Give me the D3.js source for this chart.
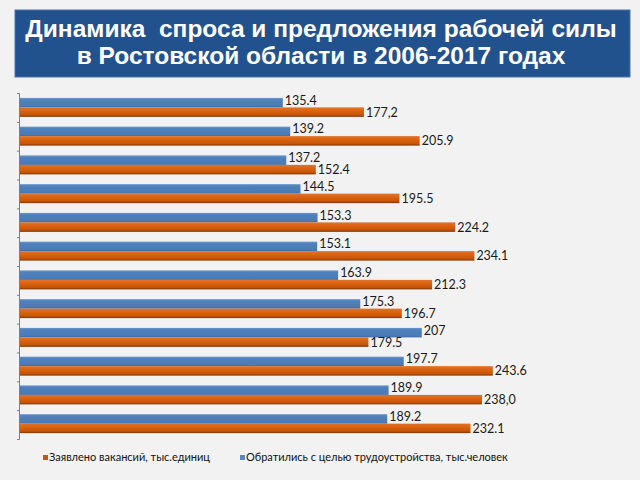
<!DOCTYPE html>
<html><head><meta charset="utf-8">
<script src="https://cdn.jsdelivr.net/npm/d3@7"></script>
<style>
html,body{margin:0;padding:0;background:#f2f2f2;}
svg{display:block;}
</style></head>
<body>
<svg id="chart" width="640" height="480"></svg>
<script>
const titleLines = ["Динамика  спроса и предложения рабочей силы", "в Ростовской области в 2006-2017 годах"];
const years = ["2006","2007","2008","2009","2010","2011","2012","2013","2014","2015","2016","2017"];
const applicants = [135.4, 139.2, 137.2, 144.5, 153.3, 153.1, 163.9, 175.3, 207, 197.7, 189.9, 189.2];
const applicantLabels = ["135.4","139.2","137.2","144.5","153.3","153.1","163.9","175.3","207","197.7","189.9","189.2"];
const vacancies = [177.2, 205.9, 152.4, 195.5, 224.2, 234.1, 212.3, 196.7, 179.5, 243.6, 238.0, 232.1];
const vacancyLabels = ["177,2","205.9","152.4","195.5","224.2","234.1","212.3","196.7","179.5","243.6","238,0","232.1"];
const seriesNames = ["Заявлено вакансий, тыс.единиц", "Обратились с целью трудоустройства, тыс.человек"];

const svg = d3.select("#chart");
const defs = svg.append("defs");
const gO = defs.append("linearGradient").attr("id","gO").attr("x1",0).attr("y1",0).attr("x2",0).attr("y2",1);
gO.append("stop").attr("offset","0%").attr("stop-color","#e0732a");
gO.append("stop").attr("offset","45%").attr("stop-color","#d8600c");
gO.append("stop").attr("offset","80%").attr("stop-color","#c4550a");
gO.append("stop").attr("offset","100%").attr("stop-color","#7a3505");
const gB = defs.append("linearGradient").attr("id","gB").attr("x1",0).attr("y1",0).attr("x2",0).attr("y2",1);
gB.append("stop").attr("offset","0%").attr("stop-color","#6d98cc");
gB.append("stop").attr("offset","20%").attr("stop-color","#4f81bd");
gB.append("stop").attr("offset","85%").attr("stop-color","#4a7bb7");
gB.append("stop").attr("offset","100%").attr("stop-color","#3c679c");

// Title box
svg.append("rect").attr("x",15).attr("y",10).attr("width",615).attr("height",67)
  .attr("fill","#22528e").attr("stroke","#4a72a8").attr("stroke-width",1);
svg.selectAll("text.title").data(titleLines).join("text").attr("class","title")
  .attr("x",321).attr("y",(d,i)=>37+i*27).attr("text-anchor","middle")
  .style("white-space","pre")
  .attr("font-family","Liberation Sans, Arial, sans-serif").attr("font-weight","bold")
  .attr("font-size",24.5).attr("fill","#ffffff").text(d=>d);

// Scales
const x = d3.scaleLinear().domain([0, 300]).range([20, 20 + 300*1.941]);
const y = d3.scaleBand().domain(years).range([93, 438]).paddingInner(0.34).paddingOuter(0.17);
const ySub = d3.scaleBand().domain(["a","v"]).range([0, y.bandwidth()]);

// axis with boundary ticks
const yB = d3.scaleLinear().domain([0, years.length]).range([93, 439]);
const axis = svg.append("g").attr("transform","translate(19,0)")
  .call(d3.axisLeft(yB).tickValues(d3.range(0, years.length+1)).tickSize(2).tickFormat(""));
axis.selectAll("path,line").attr("stroke","#7f7f7f");

const g = svg.append("g");
years.forEach((yr,i)=>{
  const y0 = y(yr);
  g.append("rect").attr("x",x(0)).attr("y",y0+ySub("a")).attr("width",x(applicants[i])-x(0))
    .attr("height",ySub.bandwidth()).attr("fill","url(#gB)");
  g.append("rect").attr("x",x(0)).attr("y",y0+ySub("v")).attr("width",x(vacancies[i])-x(0))
    .attr("height",ySub.bandwidth()).attr("fill","url(#gO)");
  g.append("text").attr("x",x(applicants[i])+2).attr("y",y0+ySub("a")+ySub.bandwidth()/2+2)
    .attr("font-family","Lato, sans-serif").attr("font-size",12.5).attr("fill","#1a1a1a").text(applicantLabels[i]);
  g.append("text").attr("x",x(vacancies[i])+2).attr("y",y0+ySub("v")+ySub.bandwidth()/2+4.5)
    .attr("font-family","Lato, sans-serif").attr("font-size",12.5).attr("fill","#1a1a1a").text(vacancyLabels[i]);
});

// Legend
const legend = svg.append("g");
const legX = [43, 240];
const legCol = ["#c0580f","#5b86bd"];
seriesNames.forEach((n,i)=>{
  legend.append("rect").attr("x",legX[i]).attr("y",455).attr("width",5).attr("height",5).attr("fill",legCol[i]);
  legend.append("text").attr("x",legX[i]+6).attr("y",461).attr("font-family","Lato, sans-serif")
    .attr("font-size",11).attr("fill","#111").text(n);
});
</script>
</body></html>
